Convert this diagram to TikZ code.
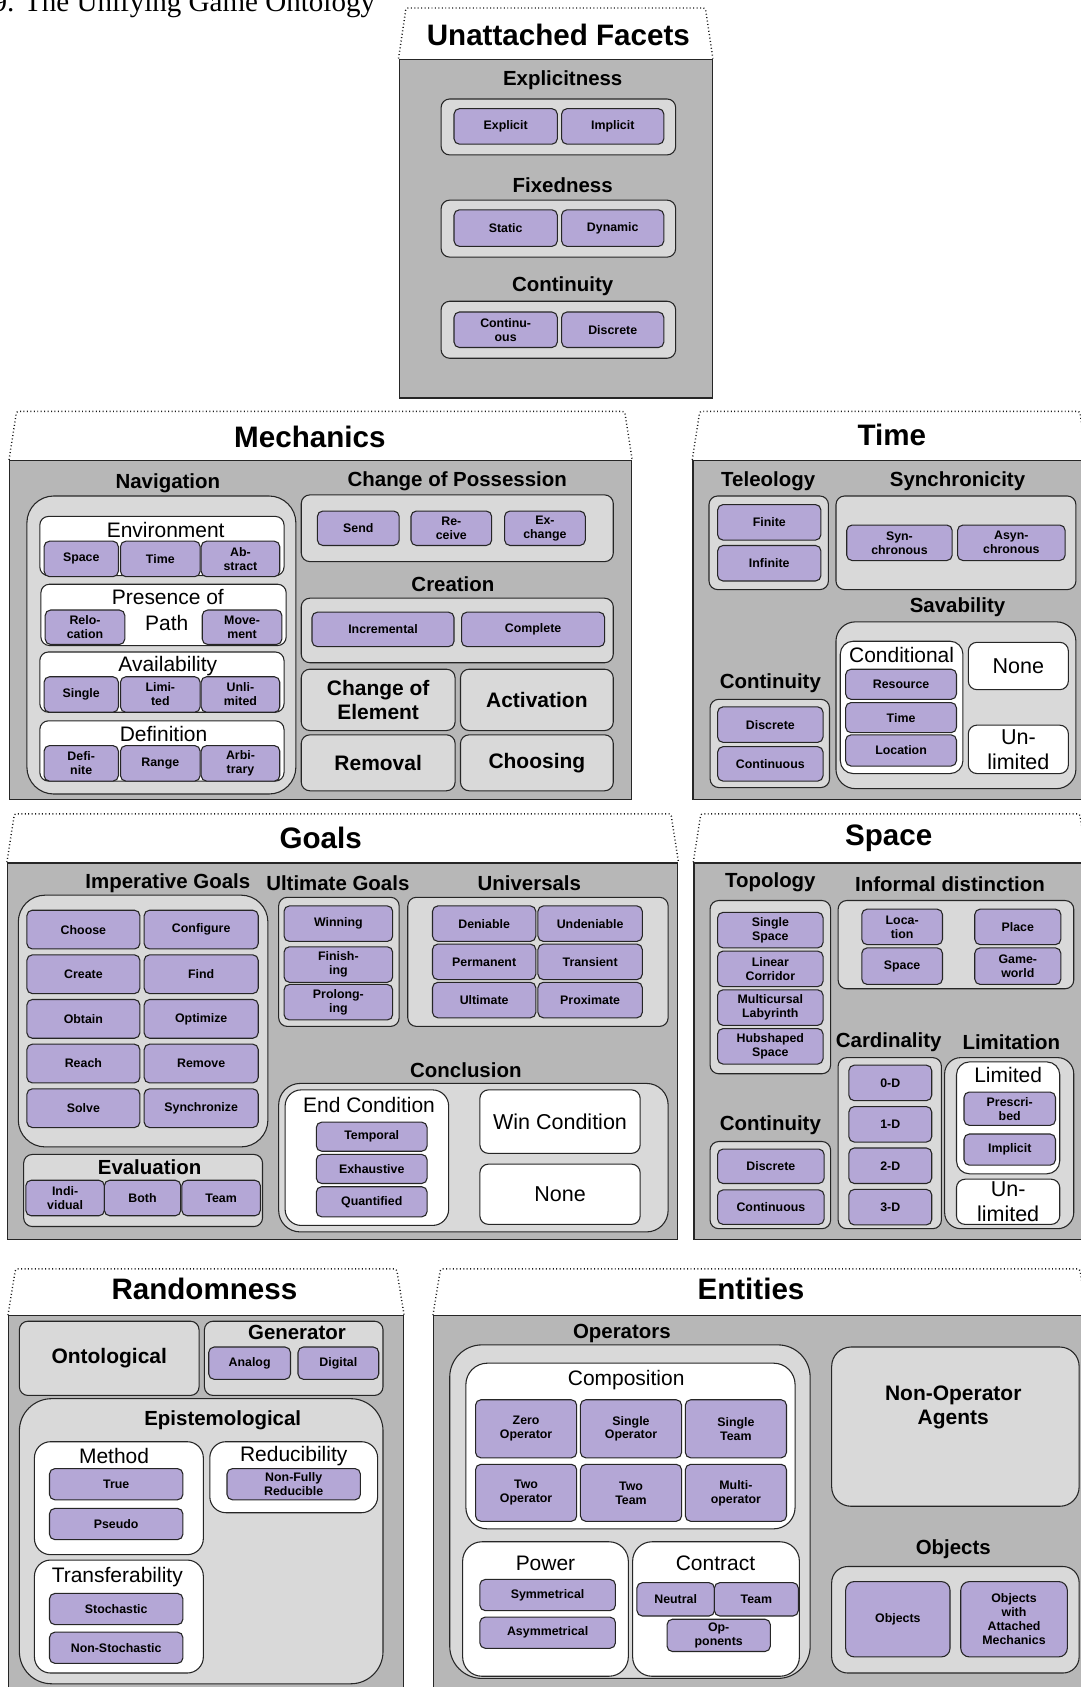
\documentclass[tikz,border=0pt]{standalone}
\usepackage{fontspec}
\setmainfont{Liberation Sans}
\newfontfamily\capfont{Liberation Serif}
\usetikzlibrary{fit}
\definecolor{panelgray}{HTML}{B7B7B7}
\definecolor{grpgray}{HTML}{D9D9D9}
\definecolor{purp}{HTML}{B4A7D6}
\definecolor{edge}{HTML}{262626}
\begin{document}
\begin{tikzpicture}[x=1pt, y=-1pt,
    panel/.style={draw=edge, fill=panelgray, line width=1.2pt, inner sep=0pt},
    tab/.style={draw=black!90, line width=1.3pt, dash pattern=on 0.9pt off 2.3pt, rounded corners=2pt},
    grp/.style={draw=edge, fill=grpgray, rounded corners=8pt, line width=1pt, inner sep=0pt},
    wbox/.style={draw=edge, fill=white, rounded corners=8pt, line width=1pt, inner sep=0pt},
    pbox/.style={draw=edge, fill=purp, rounded corners=5pt, line width=1pt, inner sep=0pt},
    lbl/.style={inner sep=0pt, align=center},
    ptx/.style={label={[lbl, font=\bfseries\fontsize{11.5}{13}\selectfont]center:#1}},
    btx/.style={label={[lbl, font=\bfseries\fontsize{19.5}{23}\selectfont]center:#1}},
    wtx/.style={label={[lbl, font=\fontsize{20}{23}\selectfont]center:#1}},
    sechead/.style={font=\bfseries\fontsize{27.5}{31}\selectfont},
    subhead/.style={font=\bfseries\fontsize{19}{22}\selectfont},
    wtitle/.style={font=\fontsize{19.5}{22}\selectfont}]
\useasboundingbox (0,0) rectangle (1004,1568);
\fill[white] (0,0) rectangle (1004,1568);
\node[anchor=base west, inner sep=0pt, font=\capfont\fontsize{27}{30}\selectfont] (caption) at (-7,11) {9. The Unifying Game Ontology};

% Unattached Facets
\node[panel, fit={(371,55) (662,370)}] (unat) {};
\node[sechead] (unatT) at (519,32) {Unattached Facets};
\node[subhead] (explT) at (523,75) {Explicitness};
\node[grp, fit={(410,92) (628,144)}] (expl) {};
\node[pbox, ptx=Explicit, fit={(422,101) (518,134)}] (explicit) {};
\node[pbox, ptx=Implicit, fit={(522,101) (617,134)}] (implicit) {};
\node[subhead] (fixT) at (523,172) {Fixedness};
\node[grp, fit={(410,186) (628,239)}] (fix) {};
\node[pbox, ptx=Static, fit={(422,195) (518,229)}] (static) {};
\node[pbox, ptx=Dynamic, fit={(522,195) (617,229)}] (dynamic) {};
\node[subhead] (ucontT) at (523,266) {Continuity};
\node[grp, fit={(410,280) (628,333)}] (ucont) {};
\node[pbox, ptx={Continu-\\ous}, fit={(422,290) (518,323)}] (ucontinuous) {};
\node[pbox, ptx=Discrete, fit={(522,290) (617,323)}] (udiscrete) {};

% Mechanics
\node[panel, fit={(9,428) (587,743)}] (mech) {};
\node[sechead] (mechT) at (288,406) {Mechanics};
\node[subhead] (navT) at (156,449) {Navigation};
\node[grp, rounded corners=25pt, fit={(25,461) (275,738)}] (nav) {};
\node[wbox, fit={(37,480) (264,535)}] (env) {};
\node[wtitle] (envT) at (154,493) {Environment};
\node[pbox, ptx=Space, fit={(41,503) (110,536)}] (envspace) {};
\node[pbox, ptx=Time, fit={(112,503) (186,536)}] (envtime) {};
\node[pbox, ptx={Ab-\\stract}, fit={(187,503) (260,536)}] (envabs) {};
\node[wbox, fit={(38,543) (266,600)}] (pres) {};
\node[wtitle] (presT) at (156,555) {Presence of};
\node[wtitle] (presT2) at (155,579) {Path};
\node[pbox, ptx={Relo-\\cation}, fit={(42,567) (116,599)}] (reloc) {};
\node[pbox, ptx={Move-\\ment}, fit={(188,567) (262,599)}] (movem) {};
\node[wbox, fit={(37,606) (264,662)}] (avail) {};
\node[wtitle] (availT) at (156,619) {Availability};
\node[pbox, ptx=Single, fit={(41,629) (110,662)}] (single) {};
\node[pbox, ptx={Limi-\\ted}, fit={(112,629) (186,662)}] (limited) {};
\node[pbox, ptx={Unli-\\mited}, fit={(187,629) (260,662)}] (unlimited) {};
\node[wbox, fit={(37,670) (264,726)}] (defn) {};
\node[wtitle] (defnT) at (152,682) {Definition};
\node[pbox, ptx={Defi-\\nite}, fit={(41,693) (110,726)}] (definite) {};
\node[pbox, ptx=Range, fit={(112,693) (186,726)}] (range) {};
\node[pbox, ptx={Arbi-\\trary}, fit={(187,693) (260,726)}] (arbitrary) {};
\node[subhead] (possT) at (425,447) {Change of Possession};
\node[grp, fit={(280,460) (570,522)}] (poss) {};
\node[pbox, ptx=Send, fit={(295,475) (371,507)}] (send) {};
\node[pbox, ptx={Re-\\ceive}, fit={(382,475) (457,507)}] (receive) {};
\node[pbox, ptx={Ex-\\change}, fit={(469,475) (544,507)}] (exchange) {};
\node[subhead] (creaT) at (421,543) {Creation};
\node[grp, fit={(280,556) (570,616)}] (crea) {};
\node[pbox, ptx=Incremental, fit={(290,569) (422,601)}] (increm) {};
\node[pbox, ptx=Complete, fit={(429,569) (562,601)}] (complete) {};
\node[grp, btx={Change of\\Element}, fit={(280,622) (423,679)}] (chel) {};
\node[grp, btx=Activation, fit={(428,622) (570,679)}] (activ) {};
\node[grp, btx=Removal, fit={(280,683) (423,735)}] (remov) {};
\node[grp, btx=Choosing, fit={(428,683) (570,735)}] (choos) {};

% Time
\node[panel, fit={(644,428) (1010,743)}] (time) {};
\node[sechead] (timeT) at (829,404) {Time};
\node[subhead] (teleT) at (714,447) {Teleology};
\node[grp, fit={(659,461) (770,548)}] (tele) {};
\node[pbox, ptx=Finite, fit={(667,469) (763,502)}] (finite) {};
\node[pbox, ptx=Infinite, fit={(667,507) (763,540)}] (infinite) {};
\node[subhead] (syncT) at (890,447) {Synchronicity};
\node[grp, fit={(777,461) (1000,548)}] (sync) {};
\node[pbox, ptx={Syn-\\chronous}, fit={(787,488) (885,521)}] (synch) {};
\node[pbox, ptx={Asyn-\\chronous}, fit={(890,488) (990,521)}] (asynch) {};
\node[subhead] (saveT) at (890,564) {Savability};
\node[grp, rounded corners=18pt, fit={(777,578) (1000,733)}] (save) {};
\node[wbox, rounded corners=12pt, fit={(781,596) (895,719)}] (cond) {};
\node[wtitle] (condT) at (838,609) {Conditional};
\node[pbox, ptx=Resource, fit={(786,622) (889,650)}] (resource) {};
\node[pbox, ptx=Time, fit={(786,653) (889,681)}] (condtime) {};
\node[pbox, ptx=Location, fit={(786,683) (889,712)}] (location) {};
\node[wbox, wtx=None, fit={(900,597) (993,641)}] (savenone) {};
\node[wbox, wtx={Un-\\limited}, fit={(900,674) (993,719)}] (saveunl) {};
\node[subhead] (tcontT) at (716,635) {Continuity};
\node[grp, fit={(660,650) (771,732)}] (tcont) {};
\node[pbox, ptx=Discrete, fit={(667,657) (765,690)}] (tdiscrete) {};
\node[pbox, ptx=Continuous, fit={(667,694) (765,726)}] (tcontinuous) {};

% Goals
\node[panel, fit={(7,802) (630,1152)}] (goals) {};
\node[sechead] (goalsT) at (298,779) {Goals};
\node[subhead] (impT) at (156,821) {Imperative Goals};
\node[grp, rounded corners=25pt, fit={(17,832) (249,1066)}] (imp) {};
\foreach \a/\b [count=\i from 0] in {Choose/Configure, Create/Find, Obtain/Optimize, Reach/Remove, Solve/Synchronize} {
    \node[pbox, ptx=\a, fit={(25,846+41.5*\i) (130,882+41.5*\i)}] (impL\i) {};
    \node[pbox, ptx=\b, fit={(134,846+41.5*\i) (240,882+41.5*\i)}] (impR\i) {};
}
\node[grp, fit={(22,1073) (244,1140)}] (eval) {};
\node[subhead] (evalT) at (139,1085) {Evaluation};
\node[pbox, ptx={Indi-\\vidual}, fit={(24,1097) (97,1130)}] (indiv) {};
\node[pbox, ptx=Both, fit={(97,1097) (168,1130)}] (both) {};
\node[pbox, ptx=Team, fit={(169,1097) (242,1130)}] (evteam) {};
\node[subhead] (ultT) at (314,821) {Ultimate Goals};
\node[grp, fit={(259,834) (371,954)}] (ult) {};
\node[pbox, ptx=Winning, fit={(264,842) (365,875)}] (winning) {};
\node[pbox, ptx={Finish-\\ing}, fit={(264,880) (365,913)}] (finishing) {};
\node[pbox, ptx={Prolong-\\ing}, fit={(264,915) (365,948)}] (prolonging) {};
\node[subhead] (univT) at (492,821) {Universals};
\node[grp, fit={(379,834) (621,954)}] (univ) {};
\foreach \a/\b [count=\i from 0] in {Deniable/Undeniable, Permanent/Transient, Ultimate/Proximate} {
    \node[pbox, ptx=\a, fit={(402,842+35.5*\i) (498,875+35.5*\i)}] (univL\i) {};
    \node[pbox, ptx=\b, fit={(500,842+35.5*\i) (597,875+35.5*\i)}] (univR\i) {};
}
\node[subhead] (conclT) at (433,995) {Conclusion};
\node[grp, rounded corners=20pt, fit={(259,1007) (621,1145)}] (concl) {};
\node[wbox, rounded corners=15pt, fit={(265,1013) (417,1139)}] (endc) {};
\node[wtitle] (endcT) at (343,1027) {End Condition};
\node[pbox, ptx=Temporal, fit={(294,1043) (397,1070)}] (temporal) {};
\node[pbox, ptx=Exhaustive, fit={(294,1073) (397,1100)}] (exhaust) {};
\node[pbox, ptx=Quantified, fit={(294,1103) (397,1131)}] (quant) {};
\node[wbox, wtx=Win Condition, fit={(446,1013) (595,1072)}] (winc) {};
\node[wbox, wtx=None, fit={(446,1082) (595,1138)}] (goalnone) {};

% Space
\node[panel, fit={(645,802) (1010,1152)}] (space) {};
\node[sechead] (spaceT) at (826,779) {Space};
\node[subhead] (topoT) at (716,820) {Topology};
\node[grp, fit={(660,837) (772,998)}] (topo) {};
\foreach \t [count=\i from 0] in {Single\\Space, Linear\\Corridor, Multicursal\\Labyrinth, Hubshaped\\Space}
    \node[pbox, ptx=\t, fit={(667,848+36*\i) (765,881+36*\i)}] (topo\i) {};
\node[subhead] (infT) at (883,822) {Informal distinction};
\node[grp, fit={(779,837) (998,919)}] (inf) {};
\node[pbox, ptx={Loca-\\tion}, fit={(801,845) (876,878)}] (loca) {};
\node[pbox, ptx=Place, fit={(906,845) (986,878)}] (place) {};
\node[pbox, ptx=Space, fit={(801,881) (876,915)}] (infspace) {};
\node[pbox, ptx={Game-\\world}, fit={(906,881) (986,915)}] (gameworld) {};
\node[subhead] (cardT) at (826,969) {Cardinality};
\node[grp, fit={(779,983) (875,1142)}] (card) {};
\foreach \t [count=\i from 0] in {0-D, 1-D, 2-D, 3-D}
    \node[pbox, ptx=\t, fit={(789,990+38.5*\i) (866,1023+38.5*\i)}] (card\i) {};
\node[subhead] (limT) at (940,969) {Limitation};
\node[grp, rounded corners=15pt, fit={(878,983) (998,1142)}] (lim) {};
\node[wbox, rounded corners=12pt, fit={(889,987) (985,1091)}] (limd) {};
\node[wtitle] (limdT) at (937,999) {Limited};
\node[pbox, ptx={Prescri-\\bed}, fit={(896,1015) (981,1046)}] (prescr) {};
\node[pbox, ptx=Implicit, fit={(896,1054) (981,1083)}] (limimpl) {};
\node[wbox, wtx={Un-\\limited}, fit={(889,1096) (985,1138)}] (limunl) {};
\node[subhead] (scontT) at (716,1046) {Continuity};
\node[grp, fit={(660,1061) (772,1142)}] (scont) {};
\node[pbox, ptx=Discrete, fit={(667,1068) (766,1100)}] (sdiscrete) {};
\node[pbox, ptx=Continuous, fit={(667,1106) (766,1138)}] (scontinuous) {};

% Randomness
\node[panel, fit={(8,1223) (375,1575)}] (rand) {};
\node[sechead] (randT) at (190,1198) {Randomness};
\node[grp, btx=Ontological, fit={(18,1228) (185,1297)}] (onto) {};
\node[grp, fit={(190,1228) (356,1297)}] (gen) {};
\node[subhead] (genT) at (276,1238) {Generator};
\node[pbox, ptx=Analog, fit={(194,1252) (270,1282)}] (analog) {};
\node[pbox, ptx=Digital, fit={(277,1252) (352,1282)}] (digital) {};
\node[grp, rounded corners=30pt, fit={(18,1300) (356,1565)}] (epis) {};
\node[subhead] (episT) at (207,1320) {Epistemological};
\node[wbox, rounded corners=15pt, fit={(32,1340) (189,1445)}] (meth) {};
\node[wtitle] (methT) at (106,1353) {Method};
\node[pbox, ptx=True, fit={(46,1365) (170,1394)}] (true) {};
\node[pbox, ptx=Pseudo, fit={(46,1402) (170,1431)}] (pseudo) {};
\node[wbox, rounded corners=15pt, fit={(195,1340) (351,1406)}] (redu) {};
\node[wtitle] (reduT) at (273,1353) {Reducibility};
\node[pbox, ptx={Non-Fully\\Reducible}, fit={(211,1365) (335,1394)}] (nonfully) {};
\node[wbox, rounded corners=15pt, fit={(32,1450) (189,1555)}] (trans) {};
\node[wtitle] (transT) at (109,1466) {Transferability};
\node[pbox, ptx=Stochastic, fit={(46,1481) (170,1510)}] (stoch) {};
\node[pbox, ptx=Non-Stochastic, fit={(46,1517) (170,1546)}] (nonstoch) {};

% Entities
\node[panel, fit={(403,1223) (1010,1575)}] (ent) {};
\node[sechead] (entT) at (698,1198) {Entities};
\node[subhead] (operT) at (578,1239) {Operators};
\node[grp, rounded corners=30pt, fit={(418,1250) (753,1560)}] (oper) {};
\node[wbox, rounded corners=20pt, fit={(433,1267) (739,1421)}] (comp) {};
\node[wtitle] (compT) at (582,1283) {Composition};
\foreach \t [count=\i from 0] in {Zero\\Operator, Single\\Operator, Single\\Team}
    \node[pbox, ptx=\t, fit={(442+97.5*\i,1301) (536+97.5*\i,1355)}] (compA\i) {};
\foreach \t [count=\i from 0] in {Two\\Operator, Two\\Team, Multi-\\operator}
    \node[pbox, ptx=\t, fit={(442+97.5*\i,1361) (536+97.5*\i,1414)}] (compB\i) {};
\node[wbox, rounded corners=18pt, fit={(430,1433) (584,1558)}] (power) {};
\node[wtitle] (powerT) at (507,1453) {Power};
\node[pbox, ptx=Symmetrical, fit={(446,1468) (572,1497)}] (symm) {};
\node[pbox, ptx=Asymmetrical, fit={(446,1503) (572,1532)}] (asymm) {};
\node[wbox, rounded corners=18pt, fit={(588,1433) (743,1558)}] (contr) {};
\node[wtitle] (contrT) at (665,1453) {Contract};
\node[pbox, ptx=Neutral, fit={(592,1471) (664,1502)}] (neutral) {};
\node[pbox, ptx=Team, fit={(664,1471) (742,1502)}] (ctteam) {};
\node[pbox, ptx={Op-\\ponents}, fit={(620,1505) (716,1535)}] (opponents) {};
\node[grp, rounded corners=18pt, fit={(773,1252) (1003,1400)}] (nonop) {};
\node[align=center, font=\bfseries\fontsize{19.5}{23}\selectfont] (nonopT) at (886,1308) {Non-Operator\\Agents};
\node[subhead] (objT) at (886,1440) {Objects};
\node[grp, rounded corners=15pt, fit={(773,1456) (1003,1555)}] (objg) {};
\node[pbox, rounded corners=8pt, ptx=Objects, fit={(786,1470) (883,1540)}] (objects) {};
\node[pbox, rounded corners=8pt, ptx={Objects\\with\\Attached\\Mechanics}, fit={(893,1470) (992,1540)}] (objmech) {};

% dotted tabs above the panels
\foreach \p/\h in {unat/47, mech/45, time/45, goals/45, space/45, rand/43, ent/43}
    \draw[tab] (\p.north west) -- ++(7,-\h) -- ([shift={(-7,-\h)}]\p.north east) -- (\p.north east);
\end{tikzpicture}
\end{document}
